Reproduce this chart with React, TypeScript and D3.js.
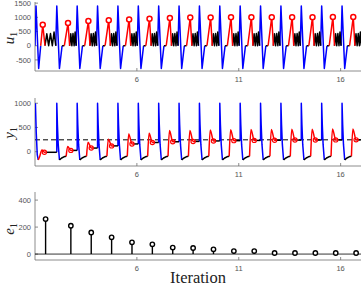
import React from 'react';
import * as d3 from 'd3';

const W = 362;
const H = 287;

// iteration data
const iterations = [1, 2, 3, 4, 5, 6, 7, 8, 9, 10, 11, 12, 13, 14, 15, 16];
const uPeak = [740, 800, 870, 900, 925, 950, 975, 990, 995, 1000, 1000, 1005, 1005, 1005, 1010, 1010];
const yPeak = [35, 108, 197, 258, 367, 380, 435, 440, 450, 455, 460, 460, 465, 465, 470, 470];
const yEnd = [-12, 27, 75, 120, 160, 190, 205, 212, 222, 228, 233, 237, 240, 242, 244, 245];
const eNorm = [259, 210, 160, 124, 87, 72, 48, 45, 35, 22, 22, 8, 8, 8, 8, 8];
const yRef = 245;

const xTicks = [6, 11, 16];
const uTicks = [-500, 0, 500, 1000, 1500];
const yTicks = [0, 500, 1000];
const eTicks = [0, 200, 400];

// shape of one iteration, as [time offset, value]
const uBlue = [[0.02, 0], [0.07, 1400], [0.2, -800], [0.33, 0]];
const uBlueFirst = [[0, 0], [0.05, 1400], [0.18, -800], [0.28, 0]];
const sawValues = [0, 420, 0, 430, 0, 480, 0];
const sawTimes = [0.7, 0.755, 0.81, 0.865, 0.92, 0.97, 1.02];
const sawTimesFirst = [0.49, 0.58, 0.67, 0.76, 0.85, 0.935, 1.02];
const yBlue = [[0.07, 1000], [0.1, 560], [0.14, 150], [0.2, -170]];
const yBlueFirst = [[0.02, 1000], [0.06, 400], [0.11, -60], [0.16, -170]];
const yLow = [[0.2, -170], [0.31, -130], [0.42, -105], [0.53, -95]];

const x = d3.scaleLinear().domain([1, 17]).range([35, 361]);
const yU = d3.scaleLinear().domain([-890, 1540]).range([71, 2]);
const yY = d3.scaleLinear().domain([-295, 1108]).range([166, 98]);
const yE = d3.scaleLinear().domain([-44, 460]).range([260, 192]);

type Seg = { color: string; pts: number[][]; smooth?: boolean };

function shift(n: number, pts: number[][]) {
  return pts.map(([t, v]) => [n + t, v]);
}

const uSegs: Seg[] = [];
const uMarks: number[][] = [];
const ySegs: Seg[] = [];
const yMarks: number[][] = [];
const stems: number[][] = [];

iterations.forEach((n, i) => {
  const first = i === 0;
  const P = uPeak[i];
  if (first) {
    uSegs.push({ color: '#0000ff', pts: shift(n, uBlueFirst) });
    uSegs.push({ color: '#ff0000', pts: shift(n, [[0.28, 0], [0.38, P], [0.49, 0]]) });
    uSegs.push({ color: '#000', pts: shift(n, sawTimesFirst.map((t, k) => [t, sawValues[k]])) });
    uMarks.push([n + 0.38, P]);
  } else {
    uSegs.push({ color: '#0000ff', pts: shift(n, uBlue) });
    uSegs.push({ color: '#000', pts: shift(n, [[0.33, 0], [0.44, 0]]) });
    uSegs.push({ color: '#ff0000', pts: shift(n, [[0.44, 0], [0.62, P], [0.7, 0]]) });
    uSegs.push({ color: '#000', pts: shift(n, sawTimes.map((t, k) => [t, sawValues[k]])) });
    uMarks.push([n + 0.62, P]);
  }

  const C = yEnd[i];
  const Q = yPeak[i];
  if (first) {
    ySegs.push({ color: '#0000ff', pts: shift(n, yBlueFirst) });
    ySegs.push({ color: '#ff0000', smooth: true, pts: shift(n, [[0.16, -170], [0.22, -110], [0.34, Q], [0.46, C], [0.52, C]]) });
    ySegs.push({ color: '#000', pts: shift(n, [[0.52, C], [1.07, C]]) });
    yMarks.push([n + 0.46, C]);
    stems.push([n + 0.52, eNorm[i]]);
  } else {
    ySegs.push({ color: '#0000ff', pts: shift(n, [[0.07, yEnd[i - 1]], ...yBlue]) });
    ySegs.push({ color: '#000', pts: shift(n, yLow) });
    ySegs.push({ color: '#ff0000', smooth: true, pts: shift(n, [[0.53, -95], [0.6, Q], [0.76, C], [0.86, C]]) });
    ySegs.push({ color: '#000', pts: shift(n, [[0.86, C], [1.07, C]]) });
    yMarks.push([n + 0.76, C]);
    stems.push([n + 0.76, eNorm[i]]);
  }
});

const order = ['#0000ff', '#000', '#ff0000'];

const Panel = ({ y, ticks, id }: { y: d3.ScaleLinear<number, number>; ticks: number[]; id: string }) => {
  const [y0, y1] = y.range();
  return (
    <g>
      <line x1={35} x2={361} y1={y0} y2={y0} stroke="#707070" strokeWidth={0.8} />
      <line x1={35} x2={35} y1={y0} y2={y1} stroke="#707070" strokeWidth={0.8} />
      {xTicks.map(t => (
        <g key={t}>
          <line x1={x(t)} x2={x(t)} y1={y0} y2={y0 - 3} stroke="#707070" strokeWidth={0.8} />
          <text x={x(t)} y={y0 + 11} fontSize={7.5} fill="#555" textAnchor="middle" fontFamily="Liberation Sans, Arial, sans-serif">{t}</text>
        </g>
      ))}
      {ticks.map(t => (
        <g key={t}>
          <line x1={35} x2={38} y1={y(t)} y2={y(t)} stroke="#707070" strokeWidth={0.8} />
          <text x={31} y={y(t) + 2.7} fontSize={7.5} fill="#555" textAnchor="end" fontFamily="Liberation Sans, Arial, sans-serif">{t}</text>
        </g>
      ))}
      <clipPath id={id}>
        <rect x={35} y={0} width={326} height={H} />
      </clipPath>
    </g>
  );
};

const lineOf = (y: d3.ScaleLinear<number, number>, smooth?: boolean) =>
  d3.line<number[]>()
    .x(d => x(d[0]))
    .y(d => y(d[1]))
    .curve(smooth ? d3.curveMonotoneX : d3.curveLinear);

const AxisLabel = ({ sym, cy }: { sym: string; cy: number }) => (
  <text transform={`translate(14,${cy}) rotate(-90)`} textAnchor="middle" fontFamily="Liberation Serif, Times New Roman, serif" fontStyle="italic" fontSize={15} fill="#222">
    {sym}
    <tspan fontStyle="normal" fontSize={9.5} dy={3}>1</tspan>
  </text>
);

export default function App() {
  return (
    <svg width={W} height={H} style={{ position: 'absolute', left: 0, top: 0, background: '#fff' }}>
      <Panel y={yU} ticks={uTicks} id="cu" />
      <Panel y={yY} ticks={yTicks} id="cy" />
      <Panel y={yE} ticks={eTicks} id="ce" />

      <g clipPath="url(#cu)">
        {order.flatMap(c => uSegs.filter(s => s.color === c)).map((s, k) => (
          <path key={k} d={lineOf(yU)(s.pts) || ''} fill="none" stroke={s.color} strokeWidth={1.5} strokeLinejoin="round" />
        ))}
        {uMarks.map((m, k) => (
          <circle key={k} cx={x(m[0])} cy={yU(m[1])} r={2.5} fill="#fff" stroke="#ff0000" strokeWidth={1.5} />
        ))}
      </g>

      <g clipPath="url(#cy)">
        <line x1={35} x2={361} y1={yY(yRef)} y2={yY(yRef)} stroke="#000" strokeWidth={1} strokeDasharray="5,3" />
        {order.flatMap(c => ySegs.filter(s => s.color === c)).map((s, k) => (
          <path key={k} d={lineOf(yY, s.smooth)(s.pts) || ''} fill="none" stroke={s.color} strokeWidth={1.5} strokeLinejoin="round" />
        ))}
        {yMarks.map((m, k) => (
          <circle key={k} cx={x(m[0])} cy={yY(m[1])} r={2.1} fill="none" stroke="#ff0000" strokeWidth={1.2} />
        ))}
      </g>

      <g clipPath="url(#ce)">
        <line x1={35} x2={361} y1={yE(0)} y2={yE(0)} stroke="#000" strokeWidth={0.8} />
        {stems.map((s, k) => (
          <g key={k}>
            <line x1={x(s[0])} x2={x(s[0])} y1={yE(0)} y2={yE(s[1])} stroke="#000" strokeWidth={1.4} />
            <circle cx={x(s[0])} cy={yE(s[1])} r={2.2} fill="#fff" stroke="#000" strokeWidth={1.4} />
          </g>
        ))}
      </g>

      <AxisLabel sym="u" cy={38} />
      <AxisLabel sym="y" cy={133} />
      <AxisLabel sym="e" cy={229} />

      <text x={198} y={283} textAnchor="middle" fontFamily="Liberation Serif, Times New Roman, serif" fontSize={16.5} fill="#222">Iteration</text>
    </svg>
  );
}
